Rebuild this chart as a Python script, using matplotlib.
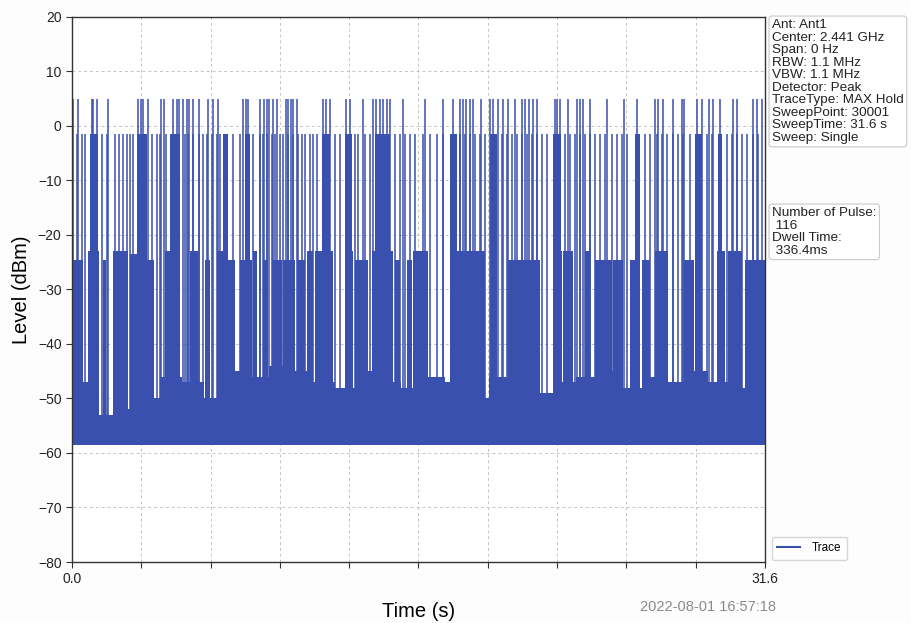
import matplotlib
matplotlib.use("Agg")
import matplotlib.pyplot as plt
from matplotlib.lines import Line2D

plt.rcParams["font.family"] = ["Liberation Sans", "DejaVu Sans"]

BLUE = "#3a50ae"
SWEEP_TIME = 31.6
Y_TICKS = [20, 10, 0, -10, -20, -30, -40, -50, -60, -70, -80]
X_TICKS = [0.0, 3.16, 6.32, 9.48, 12.64, 15.8, 18.96, 22.12, 25.28, 28.44, 31.6]
X_TICK_LABELS = ["0.0", "", "", "", "", "", "", "", "", "", "31.6"]

# strongest bursts, ~+5 dBm (start time, s)
HI_LEVEL = 5.0
hi_t = [0.03, 0.29, 0.90, 0.97, 1.13, 1.66, 3.02, 3.13, 3.25, 3.48, 4.04, 4.19,
        4.62, 4.77, 4.89, 5.05, 5.23, 5.35, 5.53, 5.79, 6.22, 6.44, 6.67, 7.81,
        7.92, 8.04, 8.57, 8.76, 8.88, 9.00, 9.18, 9.34, 9.74, 9.86, 9.97, 10.09,
        10.27, 11.46, 11.58, 11.77, 12.49, 12.68, 13.26, 13.74, 13.86, 14.04,
        14.20, 14.35, 14.50, 15.09, 16.10, 16.90, 17.39, 17.69, 17.84, 17.97,
        18.15, 18.30, 18.64, 19.06, 19.21, 19.44, 19.67, 19.90, 20.20, 20.51,
        20.66, 20.85, 21.01, 21.22, 22.02, 22.13, 22.25, 22.63, 23.01, 23.16,
        23.32, 23.62, 24.41, 25.17, 25.75, 26.58, 26.74, 26.96, 27.42, 27.80,
        27.91, 28.49, 28.71, 29.06, 29.24, 29.55, 30.16, 30.31, 31.07, 31.22, 31.45]

# second level bursts, ~-1.5 dBm
MID_LEVEL = -1.5
mid_t = [0.21, 0.44, 0.59, 1.35, 1.58, 1.96, 2.16, 2.34, 2.49, 2.64, 2.80, 3.63,
         3.86, 4.01, 4.29, 5.15, 5.30, 5.53, 5.80, 5.96, 6.14, 6.37, 6.60, 6.75,
         7.36, 7.66, 8.27, 8.57, 8.72, 8.88, 9.11, 9.26, 9.48, 9.64, 9.86, 10.09,
         10.32, 10.47, 10.62, 10.85, 11.00, 11.16, 11.99, 12.22, 12.90, 13.06,
         13.36, 13.59, 14.73, 14.96, 15.18, 15.41, 15.64, 16.02, 16.32, 16.63,
         16.93, 17.69, 17.92, 18.15, 18.38, 18.60, 18.83, 19.59, 19.82, 20.05,
         20.28, 20.51, 20.73, 20.96, 21.19, 21.42, 21.67, 22.48, 22.71, 22.94,
         23.16, 23.39, 23.62, 23.85, 24.08, 24.30, 24.61, 24.86, 25.07, 25.29,
         26.13, 26.36, 26.66, 26.89, 27.12, 27.42, 27.65, 27.88, 28.18, 28.94,
         29.17, 29.85, 30.08, 30.31, 30.54, 30.77, 31.07, 31.30]
# dense clusters at the -1.5 dBm level (start, end)
mid_blocks = [(0.82, 1.20), (2.98, 3.43), (4.47, 4.93), (6.89, 7.11), (7.89, 8.12),
              (11.39, 11.77), (12.45, 12.75), (13.82, 14.50), (17.24, 17.54),
              (19.06, 19.37), (21.95, 22.28), (25.67, 25.90), (28.41, 28.71),
              (29.46, 29.64)]

# weak bursts reaching about -23..-25 dBm (start, end, level)
low_blocks = [(0.00, 0.50, -24.5), (0.73, 1.23, -23.0), (1.41, 1.55, -24.5),
              (1.87, 2.55, -23.0), (2.64, 2.96, -23.5), (3.28, 3.74, -24.5),
              (4.24, 4.92, -23.0), (5.38, 5.75, -23.0), (6.06, 6.29, -24.5),
              (6.61, 7.07, -23.0), (7.11, 7.43, -24.5), (7.66, 8.21, -24.5),
              (8.25, 8.44, -23.0), (8.71, 8.94, -24.5), (9.12, 9.58, -24.5),
              (9.62, 10.17, -24.5), (10.31, 10.62, -24.5), (10.72, 10.99, -23.0),
              (11.08, 11.90, -23.0), (12.45, 12.81, -23.0), (12.90, 13.50, -24.5),
              (13.68, 14.64, -23.0), (14.73, 14.96, -24.5), (15.28, 15.50, -24.5),
              (15.55, 16.23, -23.0), (17.24, 18.83, -23.0), (19.88, 21.34, -24.5),
              (22.12, 22.34, -23.0), (22.39, 22.85, -23.0), (23.39, 23.62, -23.0),
              (23.85, 24.62, -24.5), (24.67, 25.13, -24.5), (25.44, 25.90, -24.5),
              (25.99, 26.36, -24.5), (26.58, 27.18, -23.0), (27.91, 28.36, -24.5),
              (28.45, 28.73, -24.5), (29.41, 29.78, -23.0), (29.91, 30.55, -23.0),
              (30.69, 31.60, -24.5)]

# noise floor envelope (steps of 1 s)
FLOOR_BOTTOM = -58.5
floor_t = [0, 1, 2, 3, 4, 5, 6, 7, 8, 9, 10, 11, 12, 13, 14, 15, 16, 17, 18, 19,
           20, 21, 22, 23, 24, 25, 26, 27, 28, 29, 30, 31, 31.6]
floor_top = [-47, -53, -52, -50, -46, -47, -50, -45, -46, -44, -45, -47, -48, -45,
             -47, -48, -46, -47, -50, -46, -47, -49, -47, -46, -45, -48, -46, -47,
             -45, -47, -48, -49, -49]

INFO = ("Ant: Ant1\nCenter: 2.441 GHz\nSpan: 0 Hz\nRBW: 1.1 MHz\nVBW: 1.1 MHz\n"
        "Detector: Peak\nTraceType: MAX Hold\nSweepPoint: 30001\n"
        "SweepTime: 31.6 s\nSweep: Single")
PULSE_INFO = "Number of Pulse:\n 116\nDwell Time:\n 336.4ms"
TIMESTAMP = "2022-08-01 16:57:18"

W, H = 911, 623
fig = plt.figure(figsize=(W / 100, H / 100), dpi=100)
fig.patch.set_facecolor("#fdfdfd")
ax = fig.add_axes([72 / W, 1 - 562 / H, 693 / W, 545 / H])
ax.set_facecolor("white")

ax.fill_between(floor_t, FLOOR_BOTTOM, floor_top, step="post", color=BLUE, lw=0)
ax.bar([b[0] for b in low_blocks], [b[2] - FLOOR_BOTTOM for b in low_blocks],
       width=[b[1] - b[0] for b in low_blocks], bottom=FLOOR_BOTTOM,
       align="edge", color=BLUE, linewidth=0)
ax.bar([b[0] for b in mid_blocks], [MID_LEVEL - FLOOR_BOTTOM] * len(mid_blocks),
       width=[b[1] - b[0] for b in mid_blocks], bottom=FLOOR_BOTTOM,
       align="edge", color=BLUE, linewidth=0)
ax.vlines(mid_t, FLOOR_BOTTOM, MID_LEVEL, color=BLUE, lw=1.1)
ax.vlines(hi_t, FLOOR_BOTTOM, HI_LEVEL, color=BLUE, lw=1.1)

ax.set_xlim(0, SWEEP_TIME)
ax.set_ylim(-80, 20)
ax.set_yticks(Y_TICKS)
ax.set_xticks(X_TICKS)
ax.set_xticklabels(X_TICK_LABELS)
ax.tick_params(labelsize=10, length=4, color="#333333", labelcolor="#222222")
ax.set_axisbelow(True)
ax.grid(True, ls=(0, (3, 3)), color="#c4c4c4", lw=0.7)
for s in ax.spines.values():
    s.set_color("#333333")
    s.set_linewidth(1.0)

ax.set_ylabel("Level (dBm)", fontsize=14.5, labelpad=5)
ax.set_xlabel("Time (s)", fontsize=14.5, labelpad=11)

ax.legend(handles=[Line2D([], [], color=BLUE, lw=1.5, label="Trace")],
          loc="lower left", bbox_to_anchor=(1.006, 0.0), fontsize=8.5,
          frameon=True, fancybox=True, edgecolor="#cccccc", handlelength=2.0,
          handletextpad=1.0, borderpad=0.45, borderaxespad=0.2)

box = dict(boxstyle="round,pad=0.22", fc="white", ec="#c8c8c8", lw=0.8)
fig.text(772 / W, 1 - 19 / H, INFO, ha="left", va="top", fontsize=9.7,
         linespacing=1.06, color="#222222", bbox=box)
fig.text(772 / W, 1 - 207 / H, PULSE_INFO, ha="left", va="top", fontsize=9.7,
         linespacing=1.06, color="#222222", bbox=box)
fig.text(776 / W, 1 - 607 / H, TIMESTAMP, ha="right", va="center", fontsize=10.5,
         color="#8a8a8a")

fig.savefig("out.png", dpi=100, facecolor=fig.get_facecolor())
